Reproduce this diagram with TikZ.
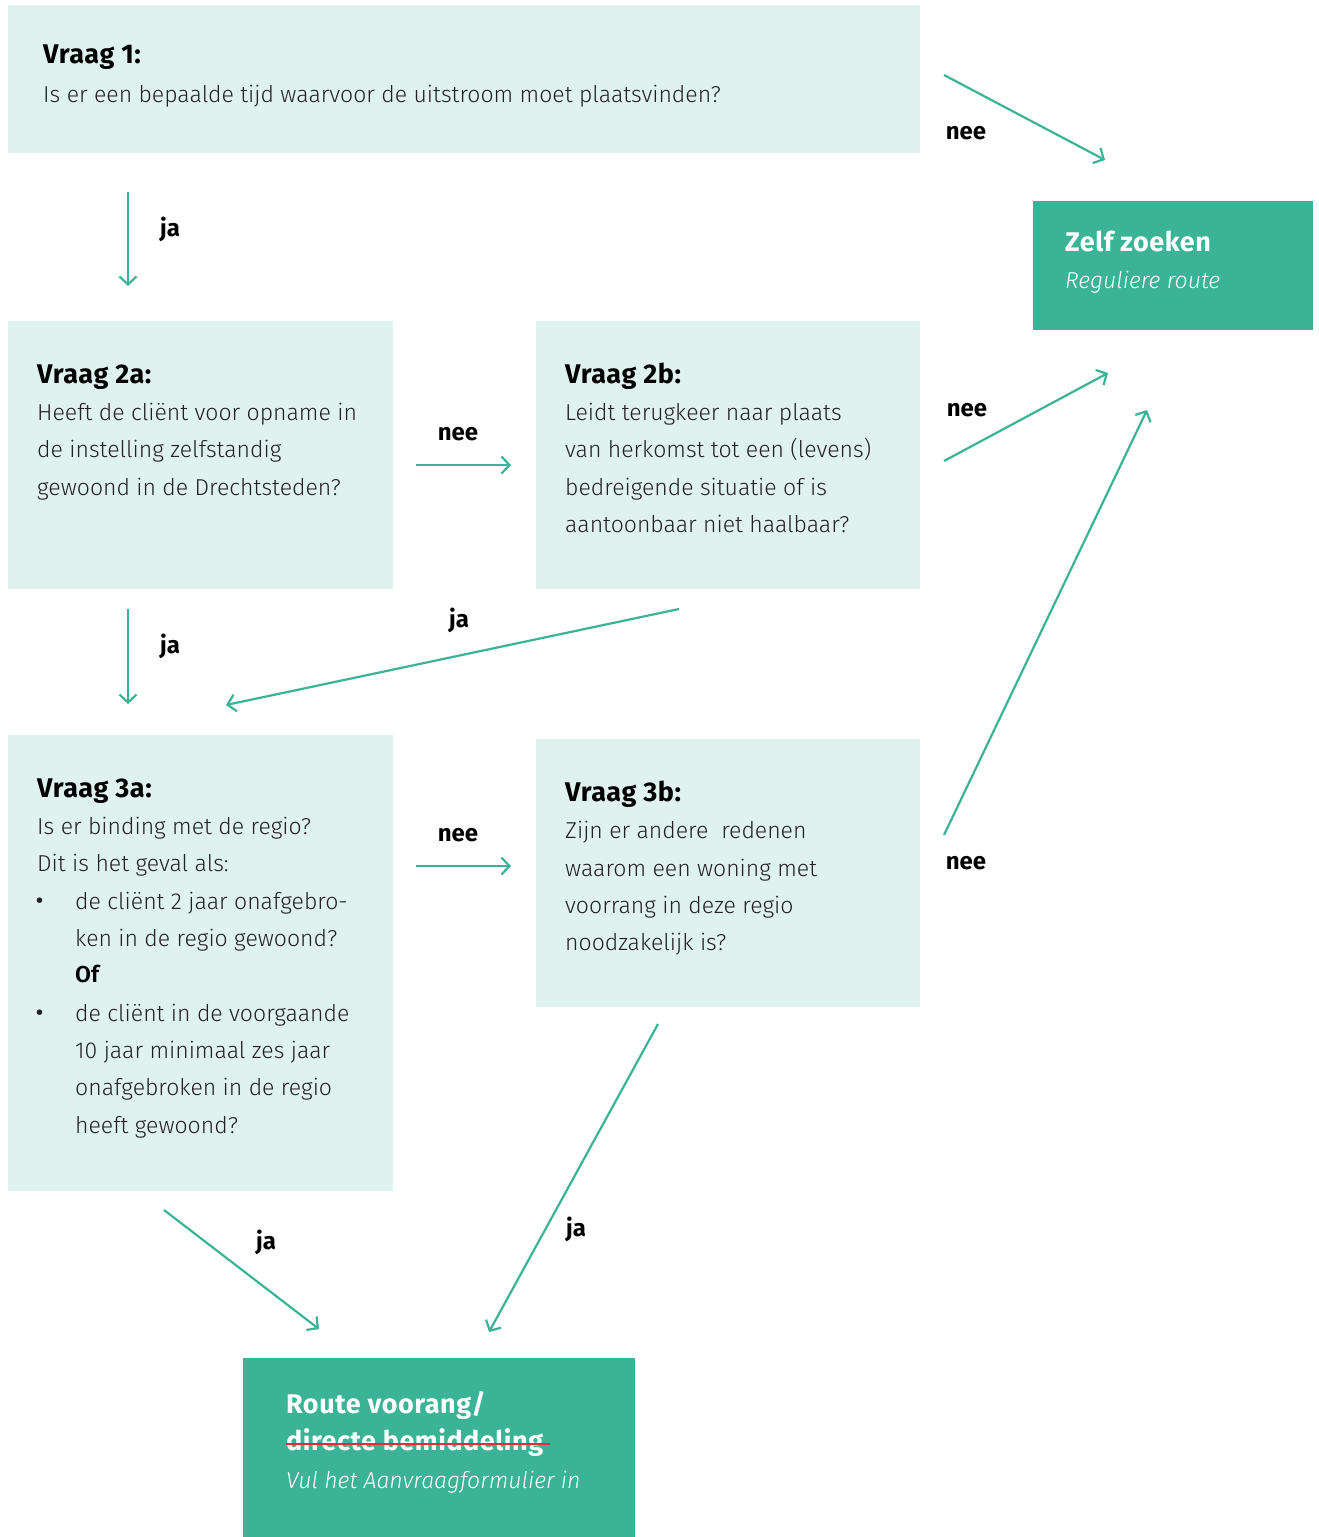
\documentclass[tikz,border=0pt]{standalone}
\usepackage{fontspec}
\setmainfont{Fira Sans Light}[ItalicFont={Fira Sans Light Italic}, BoldFont={Fira Sans SemiBold}]
\newfontfamily\hfont{Fira Sans}[LetterSpace=2]
\newfontfamily\lfont{Fira Sans}
\usetikzlibrary{arrows.meta}
\definecolor{mint}{HTML}{E0F2EE}
\definecolor{teal}{HTML}{3AB396}
\definecolor{bodytext}{HTML}{222222}
\definecolor{strike}{HTML}{E8283C}
\newcommand{\bodyfs}{\fontsize{23}{27}\selectfont}
\newcommand{\headfs}{\hfont\bfseries\fontsize{27}{30}\selectfont}
\begin{document}
\begin{tikzpicture}[x=1pt,y=-1pt,
  qbox/.style={fill=mint, draw=none, inner sep=0pt, anchor=north west},
  gbox/.style={fill=teal, draw=none, inner sep=0pt, anchor=north west},
  conn/.style={draw=teal, line width=2.2pt, -{Straight Barb[length=8pt,width=17pt,line width=2.2pt]}},
  lab/.style={font=\lfont\bfseries\fontsize{24}{28}\selectfont, anchor=base, inner sep=0pt},
  body/.style={anchor=base west, inner sep=0pt, font=\bodyfs, text=bodytext},
  bul/.style={anchor=base west, inner sep=0pt, font=\lfont\bfseries\fontsize{20}{24}\selectfont, text=bodytext},
  head/.style={anchor=base west, inner sep=0pt, font=\headfs, text=black},
  whead/.style={head, text=white},
  wital/.style={body, font=\bodyfs\itshape, text=white},
]
\useasboundingbox (0,0) rectangle (1318,1537);
% boxes
\node[qbox, minimum width=912pt, minimum height=148pt] (q1) at (8,5) {};
\node[qbox, minimum width=385pt, minimum height=268pt] (q2a) at (8,321) {};
\node[qbox, minimum width=384pt, minimum height=268pt] (q2b) at (536,321) {};
\node[qbox, minimum width=385pt, minimum height=456pt] (q3a) at (8,735) {};
\node[qbox, minimum width=384pt, minimum height=268pt] (q3b) at (536,739) {};
\node[gbox, minimum width=280pt, minimum height=129pt] (zelf) at (1033,201) {};
\node[gbox, minimum width=392pt, minimum height=179pt] (route) at (243,1358) {};
% box 1
\node[head] (h1) at (43,63) {Vraag 1:};
\node[body] (t1) at (43,102) {Is er een bepaalde tijd waarvoor de uitstroom moet plaatsvinden?};
% box 2a
\node[head] (h2a) at (37,383) {Vraag 2a:};
\node[body] (t2a1) at (37,420) {Heeft de cliënt voor opname in};
\node[body] (t2a2) at (37,457) {de instelling zelfstandig};
\node[body] (t2a3) at (37,495) {gewoond in de Drechtsteden?};
% box 2b
\node[head] (h2b) at (565,383) {Vraag 2b:};
\node[body] (t2b1) at (565,420) {Leidt terugkeer naar plaats};
\node[body] (t2b2) at (565,457) {van herkomst tot een (levens)};
\node[body] (t2b3) at (565,495) {bedreigende situatie of is};
\node[body] (t2b4) at (565,532) {aantoonbaar niet haalbaar?};
% box 3a
\node[head] (h3a) at (37,797) {Vraag 3a:};
\node[body] (t3a1) at (37,834) {Is er binding met de regio?};
\node[body] (t3a2) at (37,871) {Dit is het geval als:};
\node[bul] (b3a1) at (36,907) {•};
\node[body] (t3a3) at (75,909) {de cliënt 2 jaar onafgebro-};
\node[body] (t3a4) at (75,946) {ken in de regio gewoond?};
\node[body, font=\bodyfs\bfseries, text=black] (t3a5) at (75,982) {Of};
\node[bul] (b3a2) at (36,1019) {•};
\node[body] (t3a6) at (75,1021) {de cliënt in de voorgaande};
\node[body] (t3a7) at (75,1058) {10 jaar minimaal zes jaar};
\node[body] (t3a8) at (75,1095) {onafgebroken in de regio};
\node[body] (t3a9) at (75,1133) {heeft gewoond?};
% box 3b
\node[head] (h3b) at (565,801) {Vraag 3b:};
\node[body] (t3b1) at (565,838) {Zijn er andere\ \ redenen};
\node[body] (t3b2) at (565,876) {waarom een woning met};
\node[body] (t3b3) at (565,913) {voorrang in deze regio};
\node[body] (t3b4) at (565,950) {noodzakelijk is?};
% zelf zoeken
\node[whead] (hz) at (1065,251) {Zelf zoeken};
\node[wital] (tz) at (1065,288) {Reguliere route};
% route
\node[whead] (hr1) at (286,1413) {Route voorang/};
\node[whead] (hr2) at (286,1450) {directe bemiddeling};
\draw[strike, line width=2.5pt] (hr2.base west) ++(0,-6) coordinate (s1) -- (550,1444) coordinate (s2);
\node[wital] (tr) at (286,1488) {Vul het Aanvraagformulier in};
% connector endpoints
\coordinate (a1s) at (944,75);   \coordinate (a1e) at (1105,160);
\coordinate (a2s) at (128,192);  \coordinate (a2e) at (128,286);
\coordinate (a3s) at (416,465);  \coordinate (a3e) at (511,465);
\coordinate (a4s) at (944,461);  \coordinate (a4e) at (1108,373);
\coordinate (a5s) at (128,609);  \coordinate (a5e) at (128,704);
\coordinate (a6s) at (679,609);  \coordinate (a6e) at (226,705);
\coordinate (a7s) at (416,866);  \coordinate (a7e) at (511,866);
\coordinate (a8s) at (944,835);  \coordinate (a8e) at (1147,410);
\coordinate (a9s) at (164,1210); \coordinate (a9e) at (319,1329);
\coordinate (a10s) at (658,1024); \coordinate (a10e) at (489,1332);
\draw[conn] (a1s) -- (a1e);
\draw[conn] (a2s) -- (a2e);
\draw[conn] (a3s) -- (a3e);
\draw[conn] (a4s) -- (a4e);
\draw[conn] (a5s) -- (a5e);
\draw[conn] (a6s) -- (a6e);
\draw[conn] (a7s) -- (a7e);
\draw[conn] (a8s) -- (a8e);
\draw[conn] (a9s) -- (a9e);
\draw[conn] (a10s) -- (a10e);
% labels
\node[lab] (l1) at (966,139) {nee};
\node[lab] (l2) at (170,236) {ja};
\node[lab] (l3) at (458,440) {nee};
\node[lab] (l4) at (967,416) {nee};
\node[lab] (l5) at (170,653) {ja};
\node[lab] (l6) at (459,627) {ja};
\node[lab] (l7) at (458,841) {nee};
\node[lab] (l8) at (966,869) {nee};
\node[lab] (l9) at (266,1249) {ja};
\node[lab] (l10) at (576,1236) {ja};
\end{tikzpicture}
\end{document}
